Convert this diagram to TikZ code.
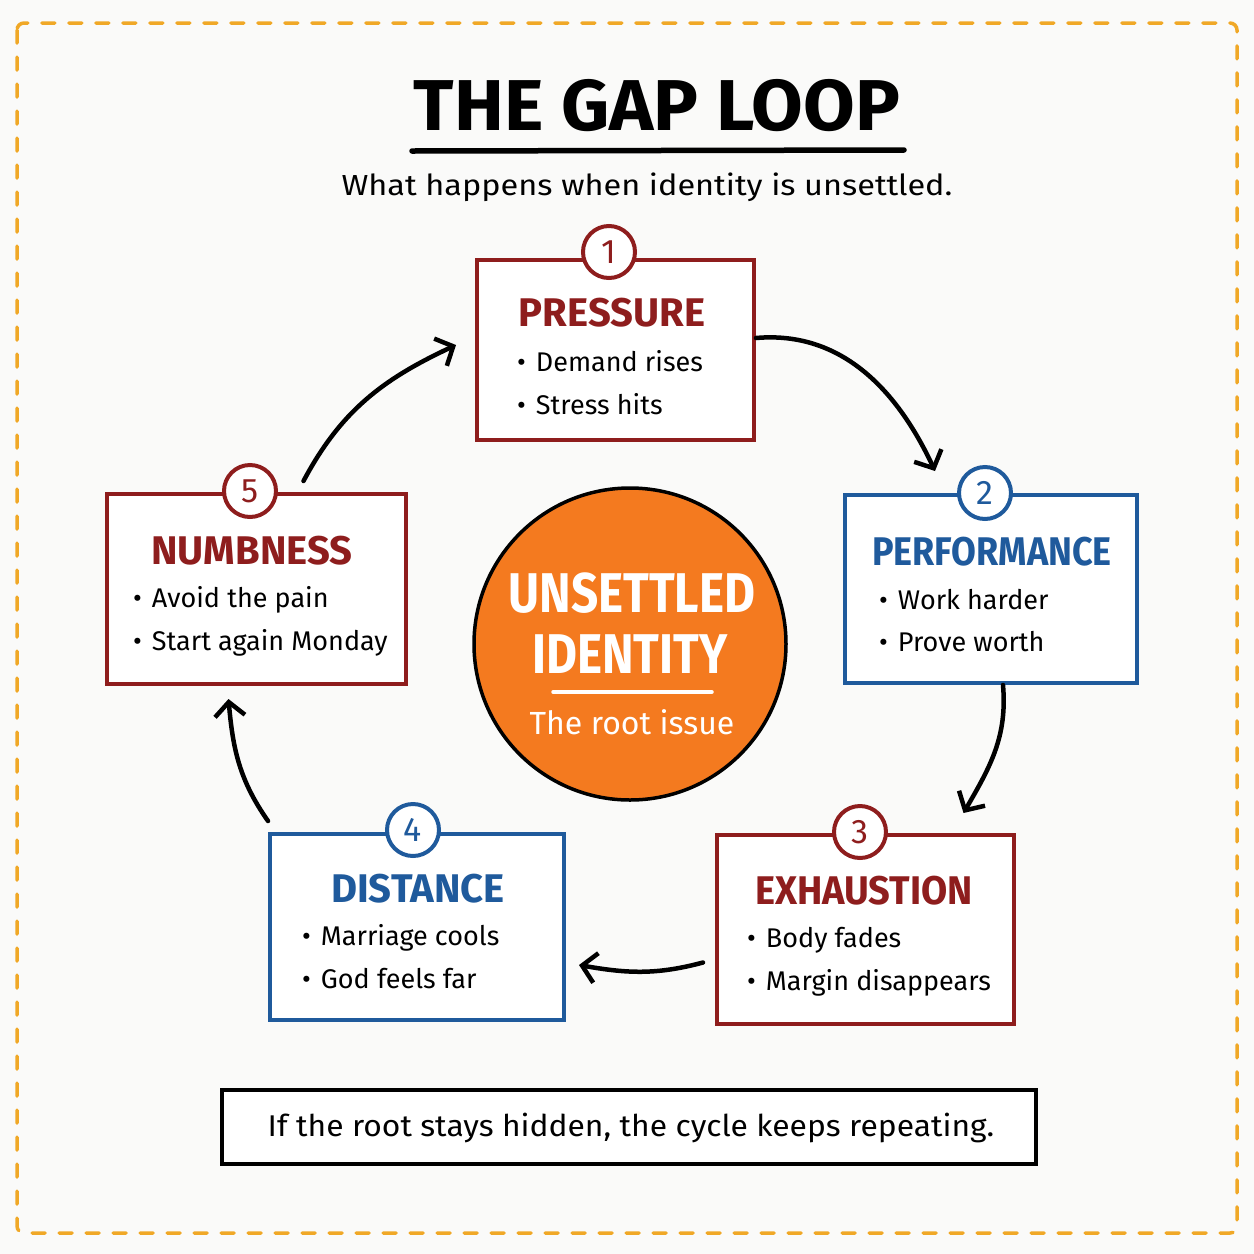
\documentclass[tikz,border=0pt]{standalone}
\usepackage{fontspec}
\setmainfont{Fira Sans}
\usetikzlibrary{arrows.meta}
\definecolor{dred}{HTML}{8E1D1D}
\definecolor{dblue}{HTML}{1F5A9C}
\definecolor{orng}{HTML}{F47A1F}
\definecolor{gold}{HTML}{F0A827}
\definecolor{bgc}{HTML}{FAFAF9}
\begin{document}
\begin{tikzpicture}[x=1pt,y=-1pt,
  card/.style={draw=#1, line width=4pt, fill=white, rectangle, inner sep=0pt},
  badge/.style={draw=#1, text=#1, circle, line width=4pt, fill=white, minimum size=52pt, inner sep=0pt, font=\fontsize{34}{34}\selectfont},
  head/.style={text=#1, font=\fontsize{40}{40}\selectfont\bfseries, inner sep=0pt},
  item/.style={anchor=west, inner sep=0pt, font=\fontsize{27}{27}\selectfont},
  arr/.style={line width=4.5pt, line cap=round, -{Straight Barb[length=14pt,width=30pt,line width=4.5pt]}}
]
\useasboundingbox (0,0) rectangle (1254,1254);
\fill[bgc] (0,0) rectangle (1254,1254);
\draw[gold, line width=3.5pt, dash pattern=on 13pt off 14pt, line cap=round, rounded corners=7pt] (17,23) rectangle (1237,1233);

% title
\node[inner sep=0pt, font=\fontsize{72}{72}\selectfont\bfseries] (title) at (657,106) {\scalebox{1.04}[1]{THE GAP LOOP}};
\draw[line width=5.5pt, line cap=round] (412,151) -- (904,150);
\node[inner sep=0pt, font=\fontsize{29}{29}\selectfont] (sub) at (647,187) {\scalebox{1.12}[1]{What happens when identity is unsettled.}};

% boxes
\node[card=dred, minimum width=277pt, minimum height=180pt] (b1) at (615.5,350) {};
\node[card=dblue, minimum width=292pt, minimum height=188pt] (b2) at (991,589) {};
\node[card=dred, minimum width=297pt, minimum height=189pt] (b3) at (865.5,929.5) {};
\node[card=dblue, minimum width=294pt, minimum height=186pt] (b4) at (417,927) {};
\node[card=dred, minimum width=299pt, minimum height=190pt] (b5) at (256.5,589) {};

% badges
\node[badge=dred] (n1) at (609,252) {1};
\node[badge=dblue] (n2) at (985,493) {2};
\node[badge=dred] (n3) at (860,832) {3};
\node[badge=dblue] (n4) at (413,830) {4};
\node[badge=dred] (n5) at (250,491) {5};

% headings
\node[head=dred] (h1) at (612,313) {PRESSURE};
\node[head=dblue] (h2) at (992,552) {\scalebox{0.9}[1]{PERFORMANCE}};
\node[head=dred] (h3) at (864,891) {\scalebox{0.95}[1]{EXHAUSTION}};
\node[head=dblue] (h4) at (418,889) {DISTANCE};
\node[head=dred] (h5) at (252,551) {NUMBNESS};

% items
\node[item] (i11) at (517,361) {•\hspace{10pt}Demand rises};
\node[item] (i12) at (517,404) {•\hspace{10pt}Stress hits};
\node[item] (i21) at (879,600) {•\hspace{10pt}Work harder};
\node[item] (i22) at (879,642) {•\hspace{10pt}Prove worth};
\node[item] (i31) at (747,940) {•\hspace{10pt}Body fades};
\node[item] (i32) at (747,983) {•\hspace{10pt}Margin disappears};
\node[item] (i41) at (302,938) {•\hspace{10pt}Marriage cools};
\node[item] (i42) at (302,979) {•\hspace{10pt}God feels far};
\node[item] (i51) at (133,600) {•\hspace{10pt}Avoid the pain};
\node[item] (i52) at (133,643) {•\hspace{10pt}Start again Monday};

% centre
\node[circle, fill=orng, draw=black, line width=3.5pt, minimum size=312pt, inner sep=0pt] (core) at (630,644) {};
\node[text=white, inner sep=0pt, font=\fontsize{56}{56}\selectfont\bfseries] (c1) at (632,593) {\scalebox{0.85}[1]{UNSETTLED}};
\node[text=white, inner sep=0pt, font=\fontsize{56}{56}\selectfont\bfseries] (c2) at (630,654) {\scalebox{0.85}[1]{IDENTITY}};
\draw[white, line width=3.5pt, line cap=round] (553,692) -- (712,692);
\node[text=white, inner sep=0pt, font=\fontsize{32}{32}\selectfont] (c3) at (632,722) {The root issue};

% arrows
\draw[arr] ([yshift=12pt]b1.east) to[out=5, in=115] ([xshift=-56pt,yshift=22pt]b2.north);
\draw[arr] ([xshift=12pt]b2.south) to[out=-85, in=60] ([xshift=98pt,yshift=20pt]b3.north);
\draw[arr] ([xshift=-12pt,yshift=-33pt]b3.west) to[out=195, in=-10] ([xshift=13pt,yshift=-38pt]b4.east);
\draw[arr] ([yshift=11pt]b4.north west) to[out=125, in=-85] ([xshift=-28pt,yshift=-13pt]b5.south);
\draw[arr] ([xshift=47pt,yshift=11pt]b5.north) to[out=62, in=205] ([xshift=-19pt,yshift=5pt]b1.west);

% footer
\node[draw=black, line width=4pt, fill=white, minimum width=814pt, minimum height=74pt, inner sep=0pt] (foot) at (629,1127) {};
\node[inner sep=0pt, font=\fontsize{30}{30}\selectfont] (ft) at (631,1128) {\scalebox{1.06}[1]{If the root stays hidden, the cycle keeps repeating.}};
\end{tikzpicture}
\end{document}
